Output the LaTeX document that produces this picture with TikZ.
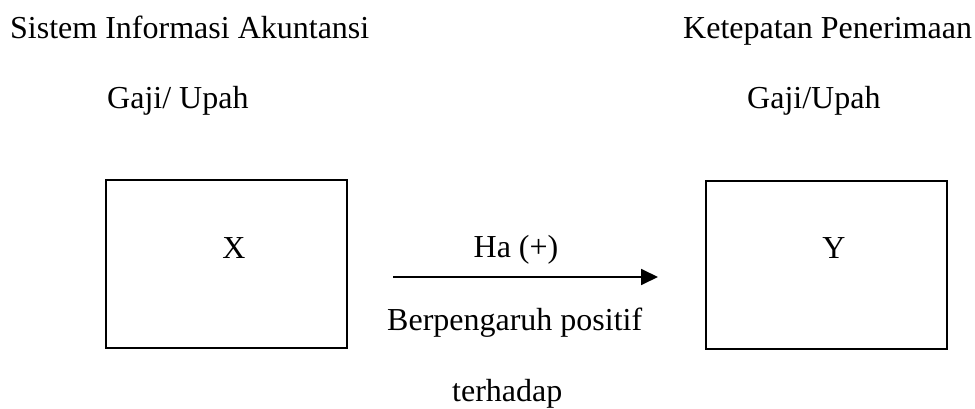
\documentclass[tikz,border=0pt]{standalone}
\usepackage{fontspec}
\setmainfont{Liberation Serif}
\usetikzlibrary{arrows.meta}
\begin{document}
\begin{tikzpicture}[x=1pt,y=-1pt,
  txt/.style={inner sep=0pt,font=\fontsize{32}{38}\selectfont},
  lt/.style={txt,anchor=base west},
  ct/.style={txt,anchor=base},
  varbox/.style={draw,line width=2pt,inner sep=0pt,minimum width=241pt,minimum height=168pt}]
\useasboundingbox (0,0) rectangle (975,409);
\node[lt] (t1) at (10,39) {Sistem Informasi Akuntansi};
\node[lt] (t2) at (107,109) {Gaji/ Upah};
\node[lt] (t3) at (683,39) {Ketepatan Penerimaan};
\node[lt] (t4) at (747,109) {Gaji/Upah};
\node[varbox] (bx) at (226.5,264) {};
\node[varbox] (by) at (826.5,265) {};
\node[ct] (lx) at (234,258) {X};
\node[ct] (ly) at (834,258) {Y};
\coordinate (a1) at (393,277);
\coordinate (a2) at (658,277);
\draw[line width=1.8pt,-{Triangle[length=17pt,width=16pt]}] (a1) -- (a2);
\node[ct] (ha) at (516,257) {Ha (+)};
\node[lt] (bp) at (387,330) {Berpengaruh positif};
\node[lt] (th) at (452,401) {terhadap};
\end{tikzpicture}
\end{document}
